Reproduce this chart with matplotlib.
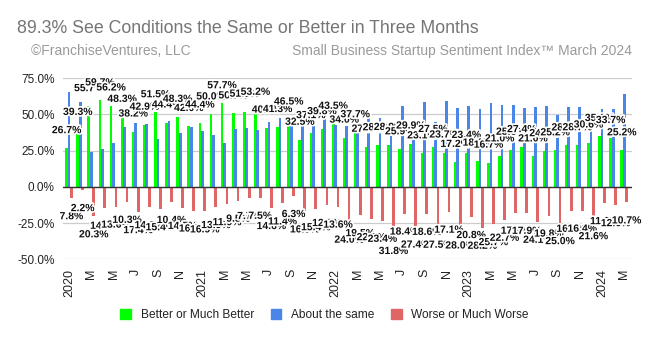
import matplotlib
matplotlib.use("Agg")
import matplotlib.pyplot as plt
import matplotlib.patheffects as pe
from matplotlib.patches import Patch
import numpy as np

plt.rcParams['font.family'] = ['Liberation Sans', 'DejaVu Sans']

months = [f"{y}-{m:02d}" for y in range(2020, 2025) for m in range(1, 13)][:51]

better = [26.7, 39.3, 55.7, 59.7, 56.2, 48.3, 38.2, 42.9, 51.5, 44.4,
          48.3, 42.0, 44.4, 50.0, 57.7, 50.7, 51.9, 53.2, 40.9, 41.3,
          46.5, 32.5, 37.1, 39.8, 43.5, 34.0, 37.7, 27.7, 28.7, 28.9,
          25.9, 29.9, 23.1, 27.5, 23.7, 17.2, 23.4, 18.1, 16.7, 21.0,
          25.6, 27.4, 21.0, 24.6, 25.2, 28.6, 28.7, 30.6, 35.1, 33.7,
          25.2]
same = [65.5, 58.5, 24.0, 25.9, 30.2, 41.4, 44.4, 43.1, 33.1, 45.2,
        37.2, 41.7, 38.7, 36.1, 30.4, 39.8, 40.4, 39.3, 44.5, 47.3,
        47.2, 50.6, 47.5, 47.7, 42.9, 42.0, 42.8, 50.0, 47.9, 39.3,
        55.7, 42.7, 58.3, 45.0, 59.2, 54.8, 55.8, 53.7, 57.6, 56.3,
        56.6, 54.7, 54.9, 55.6, 49.8, 54.9, 54.9, 47.8, 53.7, 53.7,
        64.1]
worse = [7.8, 2.2, 20.3, 14.4, 13.6, 10.3, 17.4, 14.0, 15.4, 10.4,
         14.5, 16.3, 16.9, 13.9, 11.9, 9.5, 7.7, 7.5, 14.6, 11.4,
         6.3, 16.9, 15.4, 12.5, 13.6, 24.0, 19.5, 22.3, 23.4, 31.8,
         18.4, 27.4, 18.6, 27.5, 17.1, 28.0, 20.8, 28.2, 25.7, 22.7,
         17.8, 17.9, 24.1, 19.8, 25.0, 16.5, 16.4, 21.6, 11.2, 12.6,
         10.7]

series_names = ["Better or Much Better", "About the same", "Worse or Much Worse"]
colors = ["#00ff00", "#4a86e8", "#e06666"]

month_letters = {1: None, 3: "M", 5: "M", 7: "J", 9: "S", 11: "N"}

title = "89.3% See Conditions the Same or Better in Three Months"
left_sub = "\u00a9FranchiseVentures, LLC"
right_sub = "Small Business Startup Sentiment Index\u2122 March 2024"

W, H = 649, 338
fig = plt.figure(figsize=(W / 100, H / 100), dpi=100)
ax = fig.add_axes([63 / W, 1 - 259.3 / H, (632 - 63) / W, (259.3 - 78.3) / H])

x = np.arange(len(months))
bw = 0.25
off = 0.22
ax.bar(x - off, better, width=bw, color=colors[0], zorder=3)
ax.bar(x, same, width=bw, color=colors[1], zorder=3)
ax.bar(x + off, [-v for v in worse], width=bw, color=colors[2], zorder=3)

ax.set_xlim(-0.55, 50.7)
ax.set_ylim(-50, 75)
yt = [-50, -25, 0, 25, 50, 75]
ax.set_yticks(yt)
ax.set_yticklabels([f"{v:.1f}%" for v in yt], fontsize=8.5, color="#222222")
ax.grid(axis="y", color="#cccccc", linewidth=0.9, zorder=0)
ax.axhline(0, color="#333333", linewidth=1.0, zorder=4)
for s in ax.spines.values():
    s.set_visible(False)
ax.tick_params(axis="both", length=0)
ax.tick_params(axis="y", pad=6)
ax.tick_params(axis="x", pad=7)

ticks, labels = [], []
for i, m in enumerate(months):
    yy, mm = int(m[:4]), int(m[5:])
    if mm in month_letters:
        ticks.append(i)
        labels.append(str(yy) if mm == 1 else month_letters[mm])
ax.set_xticks(ticks)
ax.set_xticklabels(labels, rotation=90, fontsize=9, color="#222222", va="top")

stroke = [pe.withStroke(linewidth=2.5, foreground="white")]
for i, v in enumerate(better):
    ax.annotate(f"{v:.1f}%", (x[i] - off, v), xytext=(0, 13), textcoords="offset points",
                ha="center", va="center", fontsize=7.5, fontweight="bold", color="#111111",
                path_effects=stroke, zorder=6)
for i, v in enumerate(worse):
    ax.annotate(f"{v:.1f}%", (x[i] + off, -v), xytext=(0, -13), textcoords="offset points",
                ha="center", va="center", fontsize=7.5, fontweight="bold", color="#111111",
                path_effects=stroke, zorder=6)

fig.text(17 / W, 1 - 33.3 / H, title, fontsize=12.8, color="#757575", va="baseline", ha="left")
fig.text(31 / W, 1 - 55 / H, left_sub, fontsize=10, color="#9a9a9a", va="baseline", ha="left")
fig.text(632 / W, 1 - 55 / H, right_sub, fontsize=10, color="#9a9a9a", va="baseline", ha="right")

handles = [Patch(facecolor=c, edgecolor=c) for c in colors]
fig.legend(handles, series_names, loc="center", bbox_to_anchor=(0.5, 1 - 315 / H), ncol=3,
           frameon=False, fontsize=8.6, handlelength=0.9, handleheight=0.9,
           handletextpad=0.8, columnspacing=1.4, labelcolor="#222222")

fig.savefig("out.png", dpi=100)
